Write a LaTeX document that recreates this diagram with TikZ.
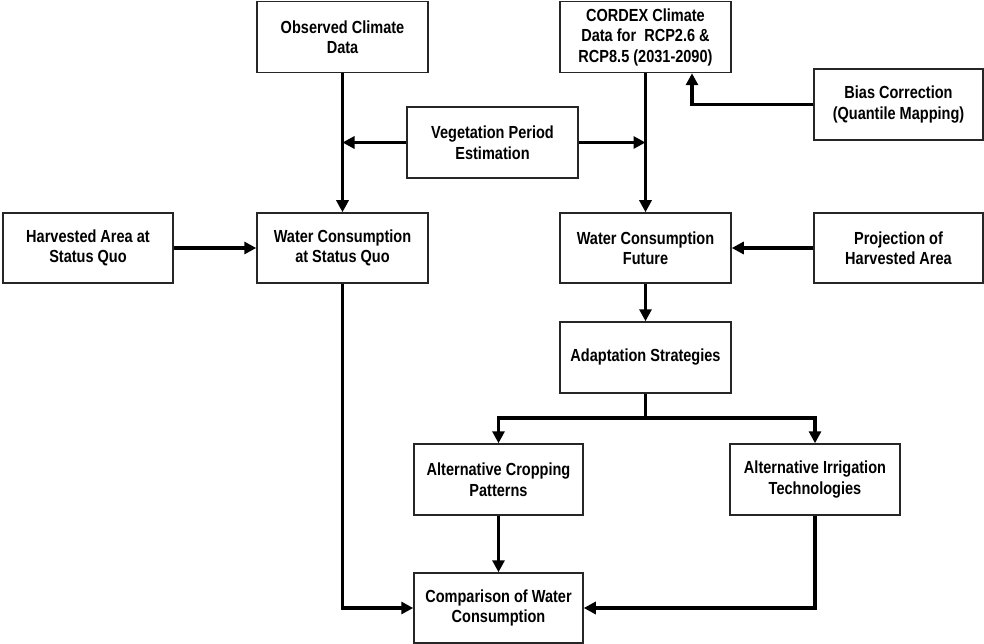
\documentclass[tikz,border=0pt]{standalone}
\usepackage{fontspec}
\setmainfont{Liberation Sans}[FakeStretch=0.83]
\usetikzlibrary{arrows.meta,calc}
\begin{document}
\begin{tikzpicture}[x=1pt,y=-1pt,
  box/.style={draw=black!85,line width=1.5pt,rectangle,minimum width=171pt,minimum height=71pt,
    inner sep=0pt,align=center,font=\fontsize{17.5}{20.5}\selectfont\bfseries,fill=white},
  conn/.style={line width=3.5pt,line join=miter},
  arr/.style={conn,-{Triangle[length=12pt,width=12pt]}}]
\useasboundingbox (0,0) rectangle (984,644);
\node[box] (obs) at (342.5,37) {Observed Climate\\Data};
\node[box] (cordex) at (645.5,37) {CORDEX Climate\\Data for\ \ RCP2.6 \&\\RCP8.5 (2031-2090)};
\node[box,minimum width=169pt] (bias) at (898.5,104.5) {Bias Correction\\(Quantile Mapping)};
\node[box] (veg) at (492.5,142.5) {Vegetation Period\\Estimation};
\node[box,minimum width=170pt,minimum height=70pt] (harv) at (88,248) {Harvested Area at\\Status Quo};
\node[box,minimum height=70pt] (wsq) at (342.5,248) {Water Consumption\\at Status Quo};
\node[box,minimum height=70pt] (wfut) at (645.5,248) {Water Consumption\\Future};
\node[box,minimum width=169pt,minimum height=70pt] (proj) at (898.5,248) {Projection of\\Harvested Area};
\node[box] (adapt) at (645.5,357.5) {Adaptation Strategies};
\node[box,minimum width=169pt] (crop) at (498.5,479.5) {Alternative Cropping\\Patterns};
\node[box,minimum width=170pt] (irr) at (815,479.5) {Alternative Irrigation\\Technologies};
\node[box,minimum width=169pt,minimum height=70pt] (comp) at (498.5,608) {Comparison of Water\\Consumption};
\coordinate (br) at (645.5,418);
\coordinate (bx) at ([xshift=46.5pt]cordex.south);
\draw[arr] (obs.south) -- (wsq.north);
\draw[arr] (cordex.south) -- (wfut.north);
\draw[arr] (veg.west) -- (veg.west -| obs.south);
\draw[arr] (veg.east) -- (veg.east -| cordex.south);
\draw[arr] (bias.west) -| (bx);
\draw[arr] (harv.east) -- (wsq.west);
\draw[arr] (proj.west) -- (wfut.east);
\draw[arr] (wfut.south) -- (adapt.north);
\draw[conn] (adapt.south) -- (br);
\draw[arr] (br) -| (crop.north);
\draw[arr] (br) -| (irr.north);
\draw[arr] (crop.south) -- (comp.north);
\draw[arr] (wsq.south) |- (comp.west);
\draw[arr] (irr.south) |- (comp.east);
\end{tikzpicture}
\end{document}
